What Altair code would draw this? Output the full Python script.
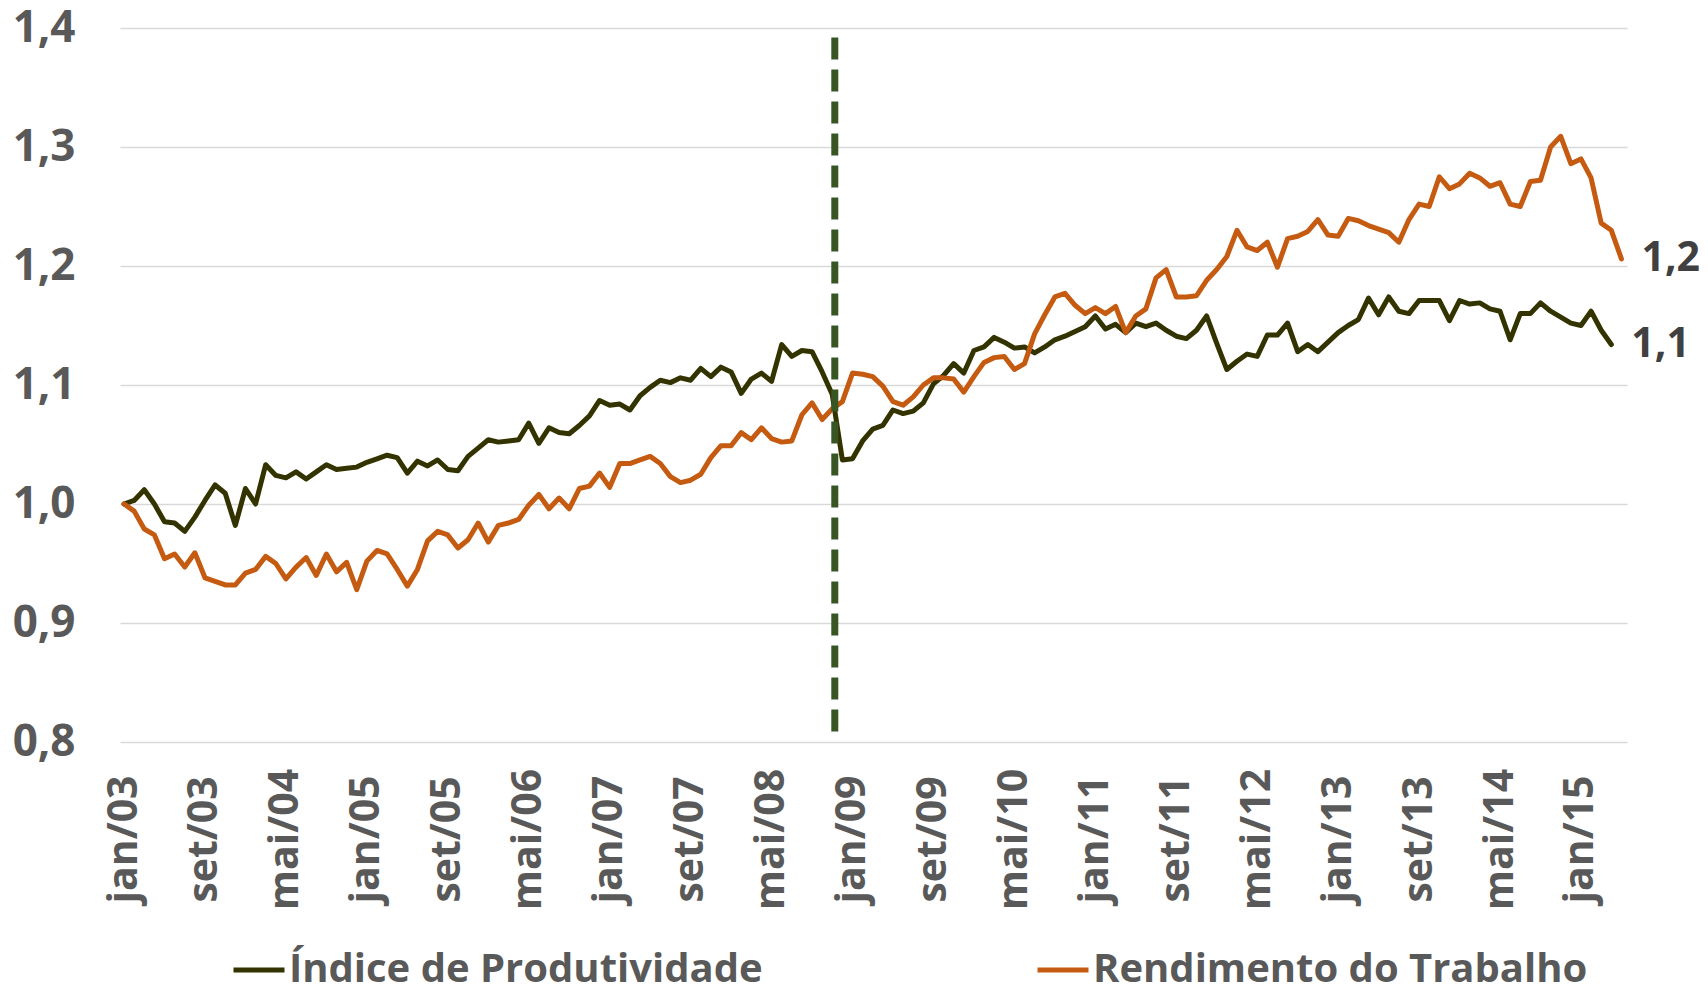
import altair as alt
import pandas as pd

# ---------------- data ----------------
series_names = ["Índice de Produtividade", "Rendimento do Trabalho"]
series_colors = ["#333300", "#C55A11"]

tick_index = [0, 8, 16, 24, 32, 40, 48, 56, 64, 72, 80, 88, 96, 104, 112, 120, 128, 136, 144]
tick_labels = ["jan/03", "set/03", "mai/04", "jan/05", "set/05", "mai/06", "jan/07", "set/07",
               "mai/08", "jan/09", "set/09", "mai/10", "jan/11", "set/11", "mai/12", "jan/13",
               "set/13", "mai/14", "jan/15"]

y_ticks = [0.8, 0.9, 1.0, 1.1, 1.2, 1.3, 1.4]

# monthly index, jan/03 = 0
produtividade = [
    1.000, 1.003, 1.012, 1.000, 0.985, 0.984, 0.977, 0.989, 1.003, 1.016,
    1.009, 0.982, 1.013, 1.000, 1.033, 1.024, 1.022, 1.027, 1.021, 1.027,
    1.033, 1.029, 1.030, 1.031, 1.035, 1.038, 1.041, 1.039, 1.026, 1.036,
    1.032, 1.037, 1.029, 1.028, 1.040, 1.047, 1.054, 1.052, 1.053, 1.054,
    1.068, 1.051, 1.064, 1.060, 1.059, 1.066, 1.074, 1.087, 1.083, 1.084,
    1.079, 1.091, 1.098, 1.104, 1.102, 1.106, 1.104, 1.114, 1.107, 1.115,
    1.111, 1.093, 1.105, 1.110, 1.103, 1.134, 1.124, 1.129, 1.128, 1.111,
    1.092, 1.037, 1.038, 1.053, 1.063, 1.066, 1.079, 1.076, 1.078, 1.085,
    1.101, 1.108, 1.118, 1.110, 1.129, 1.132, 1.140, 1.136, 1.131, 1.132,
    1.127, 1.132, 1.138, 1.141, 1.145, 1.149, 1.158, 1.147, 1.151, 1.144,
    1.152, 1.149, 1.152, 1.146, 1.141, 1.139, 1.146, 1.158, 1.135, 1.113,
    1.120, 1.126, 1.124, 1.142, 1.142, 1.152, 1.128, 1.134, 1.128, 1.136,
    1.144, 1.150, 1.155, 1.173, 1.159, 1.174, 1.162, 1.160, 1.171, 1.171,
    1.171, 1.154, 1.171, 1.168, 1.169, 1.164, 1.162, 1.138, 1.160, 1.160,
    1.169, 1.162, 1.157, 1.152, 1.150, 1.162, 1.146, 1.134,
]

rendimento = [
    1.000, 0.994, 0.979, 0.974, 0.954, 0.958, 0.947, 0.959, 0.938, 0.935,
    0.932, 0.932, 0.942, 0.945, 0.956, 0.950, 0.937, 0.947, 0.955, 0.940,
    0.958, 0.943, 0.951, 0.928, 0.952, 0.961, 0.958, 0.945, 0.931, 0.945,
    0.969, 0.977, 0.974, 0.963, 0.970, 0.984, 0.968, 0.982, 0.984, 0.987,
    0.999, 1.008, 0.996, 1.005, 0.996, 1.013, 1.015, 1.026, 1.014, 1.034,
    1.034, 1.037, 1.040, 1.034, 1.023, 1.018, 1.020, 1.025, 1.039, 1.049,
    1.049, 1.060, 1.054, 1.064, 1.055, 1.052, 1.053, 1.075, 1.085, 1.071,
    1.080, 1.086, 1.110, 1.109, 1.107, 1.099, 1.086, 1.083, 1.090, 1.100,
    1.106, 1.106, 1.105, 1.094, 1.107, 1.119, 1.123, 1.124, 1.113, 1.118,
    1.143, 1.159, 1.174, 1.177, 1.167, 1.160, 1.165, 1.160, 1.166, 1.144,
    1.158, 1.164, 1.190, 1.197, 1.174, 1.174, 1.175, 1.188, 1.197, 1.208,
    1.230, 1.216, 1.213, 1.220, 1.199, 1.223, 1.225, 1.229, 1.239, 1.226,
    1.225, 1.240, 1.238, 1.234, 1.231, 1.228, 1.220, 1.239, 1.252, 1.250,
    1.275, 1.265, 1.269, 1.278, 1.274, 1.267, 1.270, 1.252, 1.250, 1.271,
    1.272, 1.300, 1.309, 1.286, 1.290, 1.274, 1.236, 1.230, 1.206,
]

# vertical dashed marker (crisis, late 2008)
marker_index = [70.25]
marker_top = [1.392]
marker_bottom = [0.808]

# ---------------- tables ----------------
rows = []
for i, v in enumerate(produtividade):
    rows.append({"mes": i, "valor": v, "serie": series_names[0]})
for i, v in enumerate(rendimento):
    rows.append({"mes": i, "valor": v, "serie": series_names[1]})
df = pd.DataFrame(rows)

end_rows = []
for name, vals in zip(series_names, [produtividade, rendimento]):
    end_rows.append({"mes": len(vals) - 1, "valor": vals[-1],
                     "rotulo": f"{vals[-1]:.1f}".replace(".", ","), "serie": name})
end_df = pd.DataFrame(end_rows)

marker_df = pd.DataFrame({"mes": marker_index, "topo": marker_top, "base": marker_bottom})

# ---------------- chart ----------------
FONT = "Open Sans"
GRAY = "#595959"

step = tick_index[1] - tick_index[0]
label_expr_x = "[" + ",".join(f"'{t}'" for t in tick_labels) + f"][round(datum.value / {step})]"

x_scale = alt.Scale(domain=[-0.4, 148.55], nice=False, zero=False)
y_scale = alt.Scale(domain=[0.8, 1.4], nice=False, zero=False)

x_axis = alt.Axis(values=tick_index, labelExpr=label_expr_x, title=None, grid=False,
                  domain=False, ticks=False, labelAngle=-90, labelAlign="center",
                  labelBaseline="middle", labelPadding=97, labelFont=FONT, labelFontSize=41,
                  labelFontWeight="bold", labelColor=GRAY, labelOverlap=False,
                  labelFlush=False, labelBound=False)
y_axis = alt.Axis(values=y_ticks, labelExpr="replace(format(datum.value, '.1f'), '.', ',')",
                  title=None, grid=True, gridColor="#d9d9d9", gridWidth=1.5, domain=False,
                  ticks=False, labelPadding=45, labelFont=FONT, labelFontSize=44,
                  labelFontWeight="bold", labelColor=GRAY, labelFlush=False)

legend = alt.Legend(title=None, orient="none", legendX=111, legendY=914,
                    direction="horizontal", symbolType="stroke", symbolStrokeWidth=5,
                    symbolSize=2600, labelFont=FONT, labelFontSize=40, labelFontWeight="bold",
                    labelColor=GRAY, labelLimit=2000, labelOffset=2, columnPadding=264)

lines = alt.Chart(df).mark_line(strokeWidth=5, strokeJoin="round", strokeCap="round").encode(
    x=alt.X("mes:Q", scale=x_scale, axis=x_axis),
    y=alt.Y("valor:Q", scale=y_scale, axis=y_axis),
    color=alt.Color("serie:N", scale=alt.Scale(domain=series_names, range=series_colors),
                    legend=legend, sort=series_names),
)

marker = alt.Chart(marker_df).mark_rule(strokeDash=[22, 10], strokeWidth=7, color="#375623").encode(
    x=alt.X("mes:Q", scale=x_scale),
    y=alt.Y("topo:Q", scale=y_scale),
    y2="base:Q",
)

end_labels = alt.Chart(end_df).mark_text(align="left", baseline="middle", dx=20, font=FONT,
                                         fontSize=41, fontWeight="bold", color="#404040").encode(
    x=alt.X("mes:Q", scale=x_scale),
    y=alt.Y("valor:Q", scale=y_scale),
    text="rotulo:N",
)

chart = alt.layer(lines, marker, end_labels).properties(
    width=1507, height=714,
    autosize=alt.AutoSizeParams(type="none"),
    padding={"left": 112, "top": 20, "right": 72, "bottom": 243},
    background="white",
).configure_view(stroke=None)

chart.save("out.html", embed_options={"renderer": "svg", "actions": False})
